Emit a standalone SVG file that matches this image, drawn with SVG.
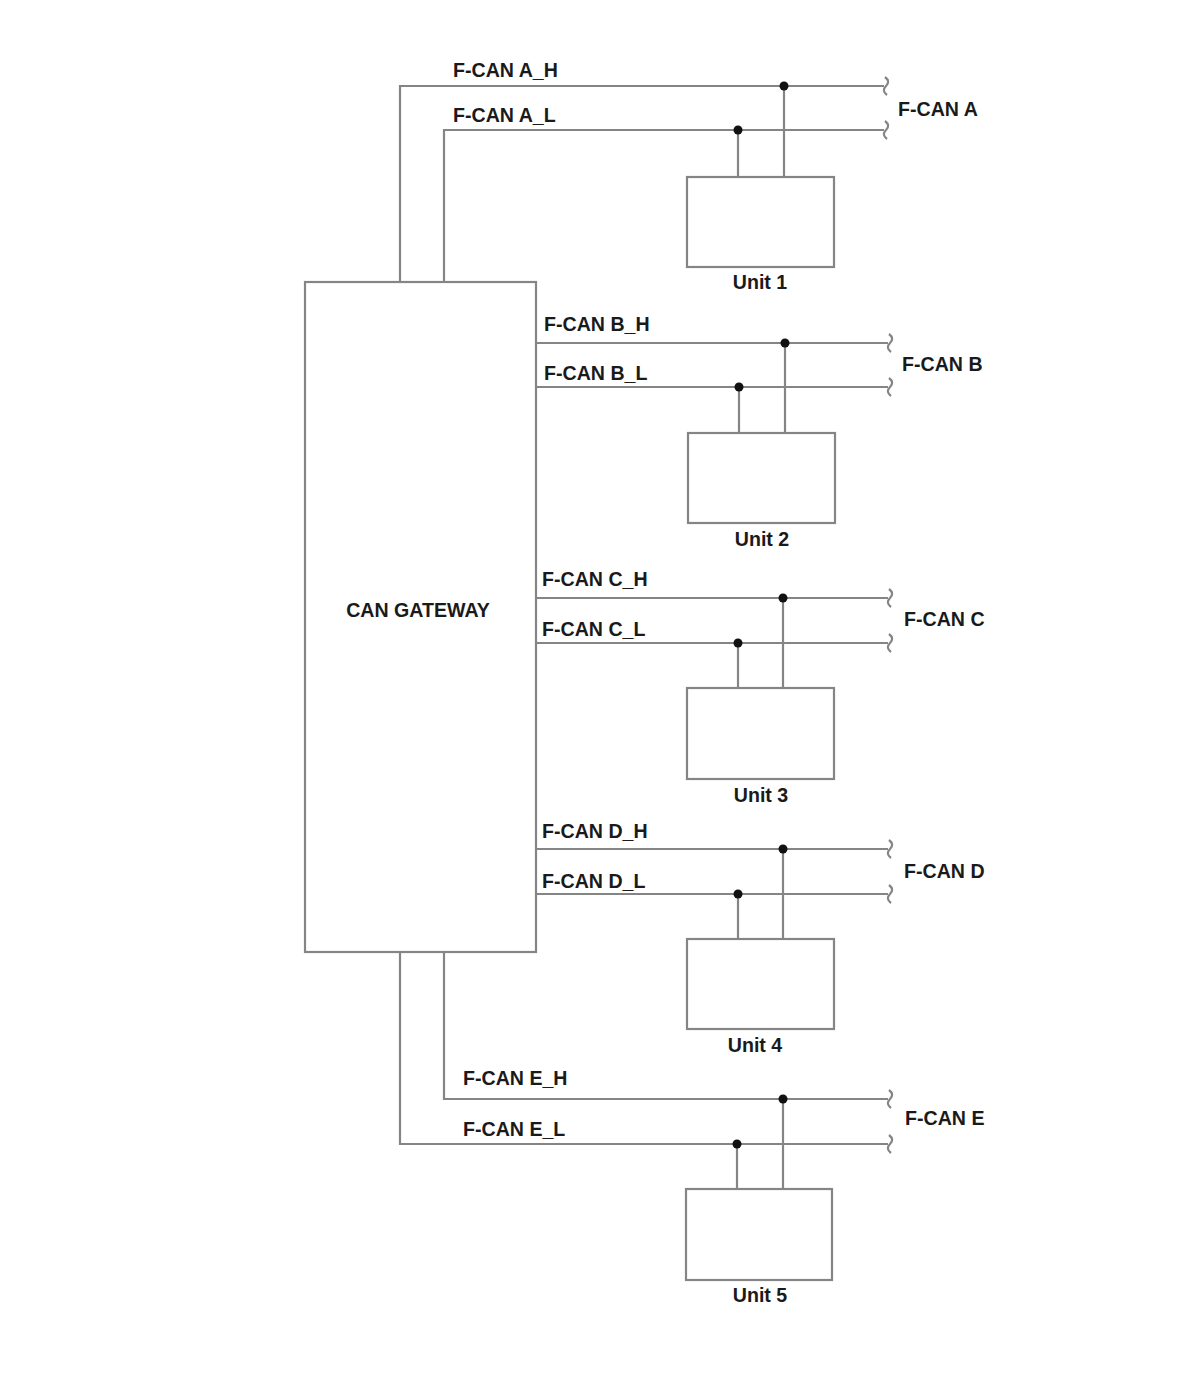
<svg xmlns="http://www.w3.org/2000/svg" width="1200" height="1380" viewBox="0 0 1200 1380">
<style>
.w{fill:none;stroke:#858585;stroke-width:2.2}
.b{fill:#fff;stroke:#858585;stroke-width:2.2}
.d{fill:#111}
.t{font-family:"Liberation Sans",Arial,sans-serif;font-weight:bold;font-size:19.6px;fill:#1a1a1a}
.m{text-anchor:middle}
</style>
<defs>
<path id="brk" d="M0,-9 c4,3 4,6 1,9 c-3,3 -3,6 1,9" class="w"/>
</defs>
<rect width="1200" height="1380" fill="#fff"/>
<g id="connectors">
<polyline class="w" points="400,282 400,86 884,86"/>
<polyline class="w" points="444,282 444,130 884,130"/>
<line class="w" x1="784" y1="86" x2="784" y2="177"/>
<line class="w" x1="738" y1="130" x2="738" y2="177"/>
<use href="#brk" x="885" y="86"/><use href="#brk" x="885" y="130"/>
<circle class="d" cx="784" cy="86" r="4.5"/><circle class="d" cx="738" cy="130" r="4.5"/>

<line class="w" x1="536" y1="343" x2="888" y2="343"/>
<line class="w" x1="536" y1="387" x2="888" y2="387"/>
<line class="w" x1="785" y1="343" x2="785" y2="433"/>
<line class="w" x1="739" y1="387" x2="739" y2="433"/>
<use href="#brk" x="889" y="343"/><use href="#brk" x="889" y="387"/>
<circle class="d" cx="785" cy="343" r="4.5"/><circle class="d" cx="739" cy="387" r="4.5"/>

<line class="w" x1="536" y1="598" x2="888" y2="598"/>
<line class="w" x1="536" y1="643" x2="888" y2="643"/>
<line class="w" x1="783" y1="598" x2="783" y2="688"/>
<line class="w" x1="738" y1="643" x2="738" y2="688"/>
<use href="#brk" x="889" y="598"/><use href="#brk" x="889" y="643"/>
<circle class="d" cx="783" cy="598" r="4.5"/><circle class="d" cx="738" cy="643" r="4.5"/>

<line class="w" x1="536" y1="849" x2="888" y2="849"/>
<line class="w" x1="536" y1="894" x2="888" y2="894"/>
<line class="w" x1="783" y1="849" x2="783" y2="939"/>
<line class="w" x1="738" y1="894" x2="738" y2="939"/>
<use href="#brk" x="889" y="849"/><use href="#brk" x="889" y="894"/>
<circle class="d" cx="783" cy="849" r="4.5"/><circle class="d" cx="738" cy="894" r="4.5"/>

<polyline class="w" points="444,952 444,1099 888,1099"/>
<polyline class="w" points="400,952 400,1144 888,1144"/>
<line class="w" x1="783" y1="1099" x2="783" y2="1189"/>
<line class="w" x1="737" y1="1144" x2="737" y2="1189"/>
<use href="#brk" x="889" y="1099"/><use href="#brk" x="889" y="1144"/>
<circle class="d" cx="783" cy="1099" r="4.5"/><circle class="d" cx="737" cy="1144" r="4.5"/>
</g>
<g id="gateway">
<rect class="b" x="305" y="282" width="231" height="670"/>
<text class="t m" x="418" y="617">CAN GATEWAY</text>
</g>
<g id="unit1"><rect class="b" x="687" y="177" width="147" height="90"/><text class="t m" x="760" y="289">Unit 1</text></g>
<g id="unit2"><rect class="b" x="688" y="433" width="147" height="90"/><text class="t m" x="762" y="546">Unit 2</text></g>
<g id="unit3"><rect class="b" x="687" y="688" width="147" height="91"/><text class="t m" x="761" y="802">Unit 3</text></g>
<g id="unit4"><rect class="b" x="687" y="939" width="147" height="90"/><text class="t m" x="755" y="1052">Unit 4</text></g>
<g id="unit5"><rect class="b" x="686" y="1189" width="146" height="91"/><text class="t m" x="760" y="1302">Unit 5</text></g>
<g id="labels">
<text class="t" x="453" y="77">F-CAN A_H</text>
<text class="t" x="453" y="122">F-CAN A_L</text>
<text class="t" x="898" y="116">F-CAN A</text>
<text class="t" x="544" y="331">F-CAN B_H</text>
<text class="t" x="544" y="380">F-CAN B_L</text>
<text class="t" x="902" y="371">F-CAN B</text>
<text class="t" x="542" y="586">F-CAN C_H</text>
<text class="t" x="542" y="636">F-CAN C_L</text>
<text class="t" x="904" y="626">F-CAN C</text>
<text class="t" x="542" y="838">F-CAN D_H</text>
<text class="t" x="542" y="888">F-CAN D_L</text>
<text class="t" x="904" y="878">F-CAN D</text>
<text class="t" x="463" y="1085">F-CAN E_H</text>
<text class="t" x="463" y="1136">F-CAN E_L</text>
<text class="t" x="905" y="1125">F-CAN E</text>
</g>
</svg>
